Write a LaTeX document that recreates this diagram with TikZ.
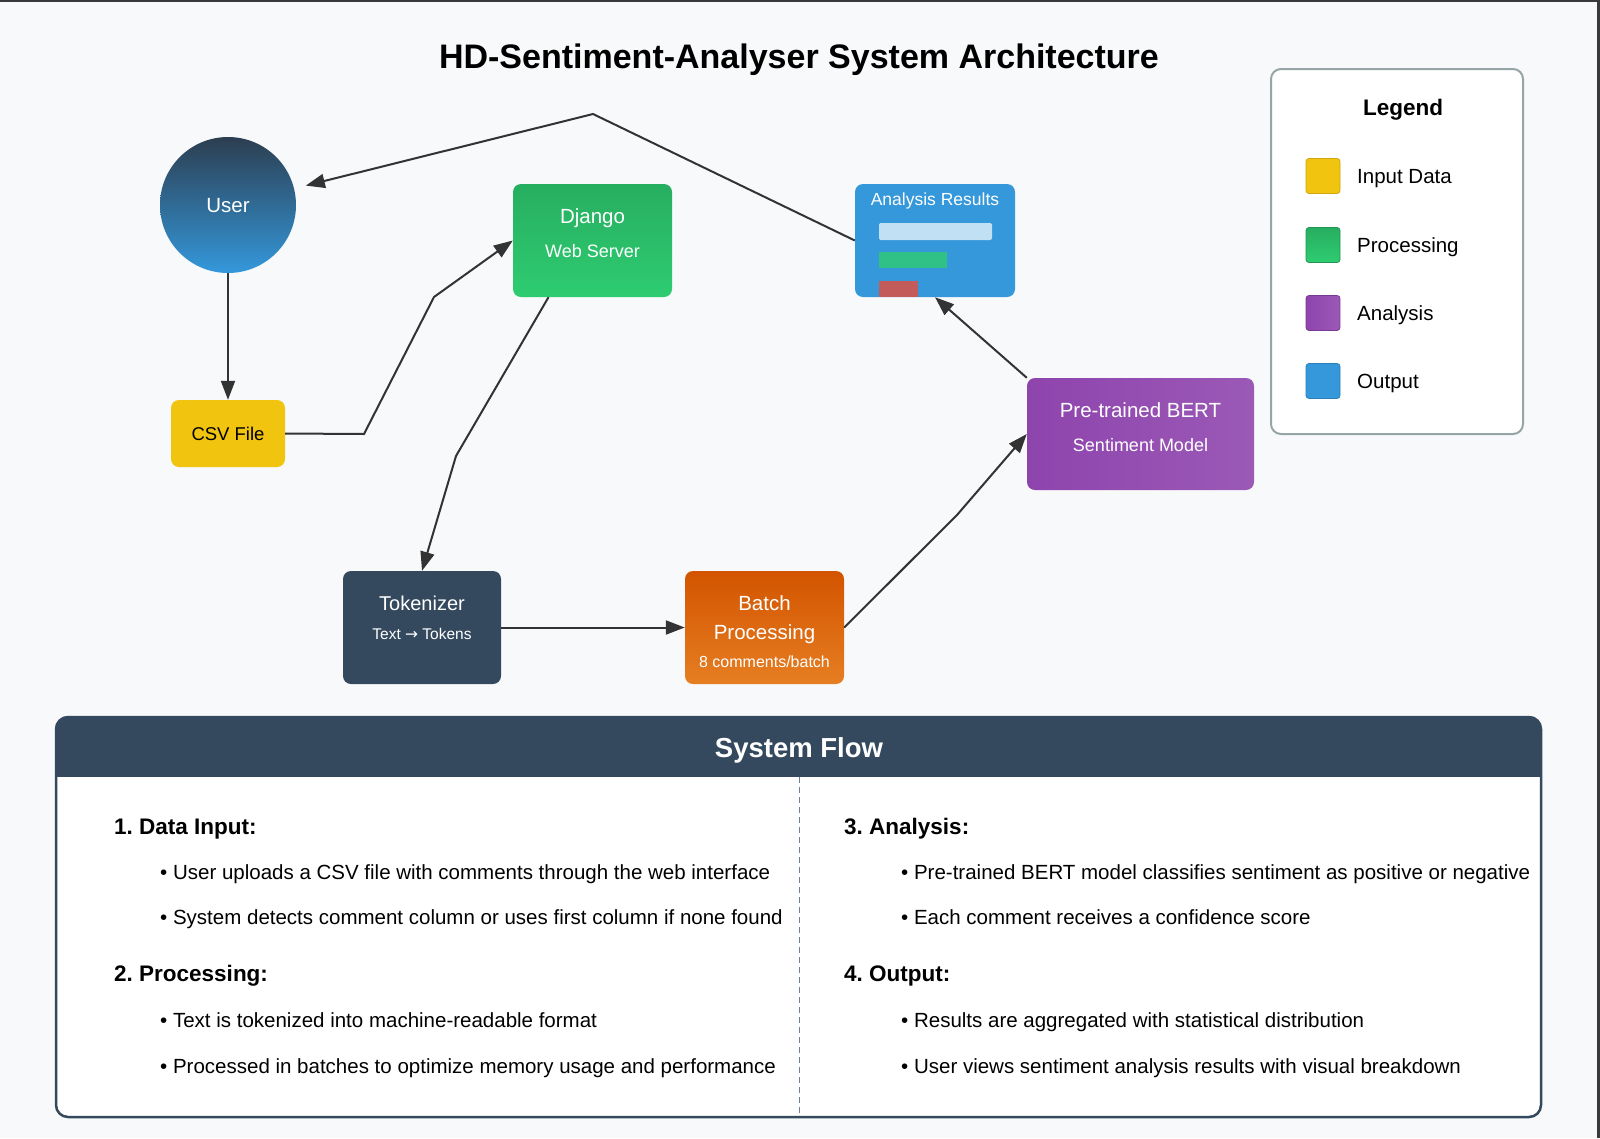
\documentclass[tikz,border=0pt]{standalone}
\usepackage{fontspec}
\setmainfont{Liberation Sans}
\newfontfamily\arrowfont{DejaVu Sans}
\usepackage{xcolor}
\usetikzlibrary{arrows.meta,calc}
\frenchspacing

\definecolor{pagebg}{HTML}{F8F9FA}
\definecolor{edgedark}{HTML}{3A3A3A}
\definecolor{arrowgray}{HTML}{333333}
\definecolor{navy}{HTML}{34495E}
\definecolor{navydark}{HTML}{2C3E50}
\definecolor{skyblue}{HTML}{3498DB}
\definecolor{greendark}{HTML}{27AE60}
\definecolor{greenlight}{HTML}{2ECC71}
\definecolor{purpledark}{HTML}{8E44AD}
\definecolor{purplelight}{HTML}{9B59B6}
\definecolor{orangedark}{HTML}{D35400}
\definecolor{orangelight}{HTML}{E67E22}
\definecolor{csvyellow}{HTML}{F1C40F}
\definecolor{barred}{HTML}{E74C3C}
\definecolor{legendgray}{HTML}{95A5A6}
\definecolor{dividergray}{HTML}{6B8299}

\newcommand{\fsz}[1]{\fontsize{#1}{#1}\selectfont}

\tikzset{
  flow/.style={draw=arrowgray, line width=2pt, -{Triangle[length=19pt,width=14pt]}},
  block/.style={rounded corners=8pt, inner sep=0pt, minimum width=159pt, minimum height=113pt},
  % text centred on the caps height of a font of size #1
  txt/.style={inner sep=0pt, anchor=base, yshift=-0.36*#1pt},
  ltxt/.style={inner sep=0pt, anchor=base west, yshift=-0.36*#1pt},
  swatch/.style={rounded corners=3pt, minimum width=34pt, minimum height=35pt, inner sep=0pt, line width=0.8pt},
  inputsw/.style={fill=csvyellow, draw=csvyellow!85!black},
  procsw/.style={top color=greendark, bottom color=greenlight, draw=greendark!85!black},
  anasw/.style={left color=purpledark, right color=purplelight, draw=purpledark!85!black},
  outsw/.style={fill=skyblue, draw=skyblue!85!black},
}

\begin{document}
\begin{tikzpicture}[x=1pt, y=-1pt]
  \useasboundingbox (0,0) rectangle (1600,1138);
  \fill[pagebg] (0,0) rectangle (1600,1138);
  \fill[edgedark] (0,0) rectangle (1600,2);
  \fill[edgedark] (1597,0) rectangle (1600,1138);

  % title
  \node[txt=34, font=\bfseries\fsz{34}] (title) at (799,56) {HD-Sentiment-Analyser System Architecture};

  % components
  \node[circle, minimum size=136pt, inner sep=0pt, top color=navydark, bottom color=skyblue] (user) at (228,205) {};
  \node[txt=20.5, text=white, font=\fsz{20.5}] (usertext) at (user) {User};

  \node[block, minimum width=114pt, minimum height=67pt, fill=csvyellow] (csv) at (228,433.5) {};
  \node[txt=18.5, font=\fsz{18.5}] (csvtext) at (csv) {CSV File};

  \node[block, top color=greendark, bottom color=greenlight] (django) at (592.5,240.5) {};
  \node[txt=20.5, text=white, font=\fsz{20.5}] (djangotitle) at ([yshift=-32pt]django.north) {Django};
  \node[txt=18, text=white, font=\fsz{18}] (djangosub) at ([yshift=-67pt]django.north) {Web Server};

  \node[block, minimum width=160pt, fill=skyblue] (results) at (935,240.5) {};
  \node[txt=17.5, text=white, font=\fsz{17.5}] (resultstitle) at ([yshift=-15pt]results.north) {Analysis Results};
  \fill[white, opacity=0.7, rounded corners=2pt] (879,223) rectangle (992,240);
  \fill[greenlight, opacity=0.8] (879,252) rectangle (947,268);
  \fill[barred, opacity=0.8] (879,281) rectangle (918,297);

  \node[block, minimum width=227pt, minimum height=112pt, left color=purpledark, right color=purplelight] (bert) at (1140.5,434) {};
  \node[txt=20.5, text=white, font=\fsz{20.5}] (berttitle) at ([yshift=-32pt]bert.north) {Pre-trained BERT};
  \node[txt=18, text=white, font=\fsz{18}] (bertsub) at ([yshift=-67pt]bert.north) {Sentiment Model};

  \node[block, minimum width=158pt, fill=navy] (tok) at (422,627.5) {};
  \node[txt=20, text=white, font=\fsz{20}] (toktitle) at ([yshift=-32pt]tok.north) {Tokenizer};
  \node[txt=15.5, text=white, font=\fsz{15.5}] (toksub) at ([yshift=-63pt]tok.north) {Text {\arrowfont →} Tokens};

  \node[block, top color=orangedark, bottom color=orangelight] (batch) at (764.5,627.5) {};
  \node[txt=20.5, text=white, font=\fsz{20.5}] (batchtitle) at ([yshift=-32pt]batch.north) {Batch};
  \node[txt=20.5, text=white, font=\fsz{20.5}] (batchtitle2) at ([yshift=-61pt]batch.north) {Processing};
  \node[txt=16, text=white, font=\fsz{16}] (batchsub) at ([yshift=-91pt]batch.north) {8 comments/batch};

  % connectors
  \draw[flow] (user) -- (csv);
  \draw[flow] (csv.east) -- (364,434) -- (434,297) -- (django.west);
  \draw[flow] ([xshift=-44pt]django.south) -- (456,456) -- (tok.north);
  \draw[flow] (tok) -- (batch);
  \draw[flow] (batch.east) -- (957,515) -- (bert.west);
  \draw[flow] (bert.north west) -- (results.south);
  \draw[flow, shorten >=12pt] (results.west) -- (593,114) -- (user);

  % legend
  \node[draw=legendgray, fill=white, line width=2pt, rounded corners=10pt,
        minimum width=252pt, minimum height=365pt] (legend) at (1397,251.5) {};
  \node[txt=22.5, font=\bfseries\fsz{22.5}] (legendtitle) at (1403,107) {Legend};
  \foreach \yy/\sw/\nm/\lbl in {176/inputsw/input/Input Data, 245/procsw/proc/Processing,
                                313/anasw/ana/Analysis, 381/outsw/out/Output} {
    \node[swatch, \sw] (sw-\nm) at (1323,\yy) {};
    \node[ltxt=20.5, font=\fsz{20.5}] (lb-\nm) at (1357,\yy) {\lbl};
  }

  % system flow panel
  \begin{scope}
    \clip[rounded corners=12pt] (56,717) rectangle (1541,1117);
    \fill[white] (56,717) rectangle (1541,1117);
    \fill[navy] (56,717) rectangle (1541,777);
  \end{scope}
  \draw[dividergray, line width=0.9pt, dash pattern=on 6pt off 4pt] (799,777) -- (799,1117);
  \draw[navy, line width=2.5pt, rounded corners=12pt] (56,717) rectangle (1541,1117);
  \node[txt=27.5, text=white, font=\bfseries\fsz{27.5}] (flowtitle) at (799,748) {System Flow};

  \foreach \xx/\yy/\txt in {114/826/1. Data Input:, 114/973/2. Processing:,
                            844/826/3. Analysis:, 844/973/4. Output:}
    \node[ltxt=22.5, font=\bfseries\fsz{22.5}] at (\xx,\yy) {\txt};

  \foreach \xx/\yy/\txt in {
      160/872/{• User uploads a CSV file with comments through the web interface},
      160/917/{• System detects comment column or uses first column if none found},
      160/1020/{• Text is tokenized into machine-readable format},
      160/1066/{• Processed in batches to optimize memory usage and performance},
      901/872/{• Pre-trained BERT model classifies sentiment as positive or negative},
      901/917/{• Each comment receives a confidence score},
      901/1020/{• Results are aggregated with statistical distribution},
      901/1066/{• User views sentiment analysis results with visual breakdown}}
    \node[ltxt=20.5, font=\fsz{20.5}] at (\xx,\yy) {\txt};
\end{tikzpicture}
\end{document}
